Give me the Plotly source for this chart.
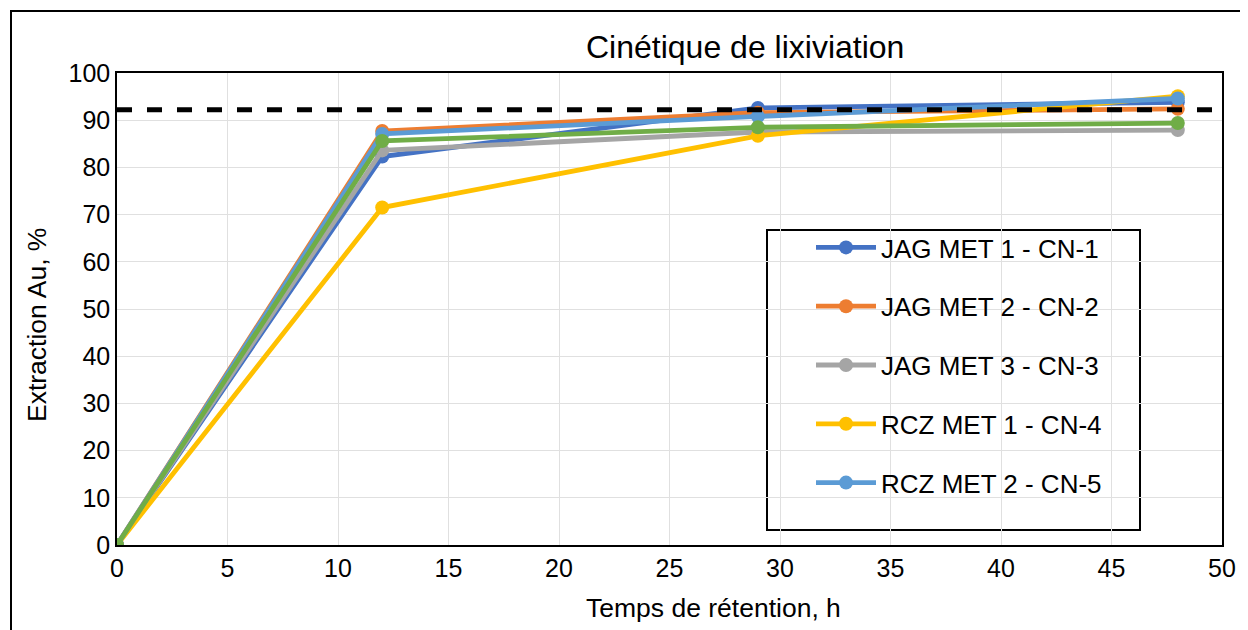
import plotly.graph_objects as go

time_h = [0, 12, 29, 48]
names = ["JAG MET 1 - CN-1", "JAG MET 2 - CN-2", "JAG MET 3 - CN-3",
         "RCZ MET 1 - CN-4", "RCZ MET 2 - CN-5", "Série 6"]
jag1 = [0, 82.3, 92.6, 93.8]
jag2 = [0, 87.7, 91.6, 92.4]
jag3 = [0, 83.6, 87.5, 87.9]
rcz1 = [0, 71.5, 86.7, 95.1]
rcz2 = [0, 87.1, 90.8, 94.6]
green = [0, 85.6, 88.5, 89.4]
target_x = [0, 50]
target_y = [92.2, 92.2]

colors = ["#4472C4", "#ED7D31", "#A5A5A5", "#FFC000", "#5B9BD5", "#70AD47"]
series = [jag1, jag2, jag3, rcz1, rcz2, green]

fig = go.Figure()
for i, (nm, ys) in enumerate(zip(names, series)):
    fig.add_trace(go.Scatter(
        x=time_h, y=ys, name=nm, mode="lines+markers",
        line=dict(color=colors[i], width=4.8),
        marker=dict(color=colors[i], size=14),
        legendgroup=f"g{i}", showlegend=(i < 5)))
fig.add_trace(go.Scatter(x=target_x, y=target_y, mode="lines", showlegend=False,
                         line=dict(color="black", width=5, dash="dash"), hoverinfo="skip"))

# screen-space geometry (page body has an 8px offset)
OFF = 8
SL, SR, ST, SB = 117, 1222, 73, 545
W, H = 1240, 622
pw, ph = SR - SL, SB - ST
L, T = SL - OFF, ST - OFF
R = W - L - pw
B = H - T - ph

def px(x):
    return (x - SL) / pw

def py(y):
    return (SB - y) / ph

fig.update_layout(
    width=W, height=H, margin=dict(l=L, r=R, t=T, b=B),
    paper_bgcolor="white", plot_bgcolor="white",
    font=dict(family="Liberation Sans, Arial", size=25, color="black"),
    xaxis=dict(range=[0, 50], dtick=5, showgrid=True, gridcolor="#E0E0E0", gridwidth=1,
               showline=True, linecolor="black", linewidth=1.5, mirror=True,
               zeroline=False, ticks="", tickfont=dict(size=25)),
    yaxis=dict(range=[0, 100], dtick=10, showgrid=True, gridcolor="#E0E0E0", gridwidth=1,
               showline=True, linecolor="black", linewidth=1.5, mirror=True,
               zeroline=False, ticks="", tickfont=dict(size=25)),
    legend=dict(x=px(811), y=py(224), xanchor="left", yanchor="top",
                bgcolor="rgba(0,0,0,0)", borderwidth=0, font=dict(size=26),
                traceorder="grouped", tracegroupgap=22, itemwidth=60),
    showlegend=True,
)
fig.add_shape(type="rect", xref="paper", yref="paper",
              x0=px(767), x1=px(1140), y0=py(530), y1=py(230),
              line=dict(color="black", width=2), fillcolor="white", layer="below")
fig.add_shape(type="rect", xref="paper", yref="paper",
              x0=px(11), x1=px(1260), y0=py(640), y1=py(11),
              line=dict(color="black", width=2), layer="below")
fig.add_annotation(text="Cinétique de lixiviation", xref="paper", yref="paper",
                   x=px(745), y=py(47), showarrow=False, font=dict(size=32),
                   xanchor="center", yanchor="middle")
fig.add_annotation(text="Temps de rétention, h", xref="paper", yref="paper",
                   x=px(713), y=py(608), showarrow=False, font=dict(size=26.5),
                   xanchor="center", yanchor="middle")
fig.add_annotation(text="Extraction Au, %", xref="paper", yref="paper",
                   x=px(37), y=py(325), showarrow=False, font=dict(size=26.5),
                   textangle=-90, xanchor="center", yanchor="middle")
fig.write_html("out.html")
